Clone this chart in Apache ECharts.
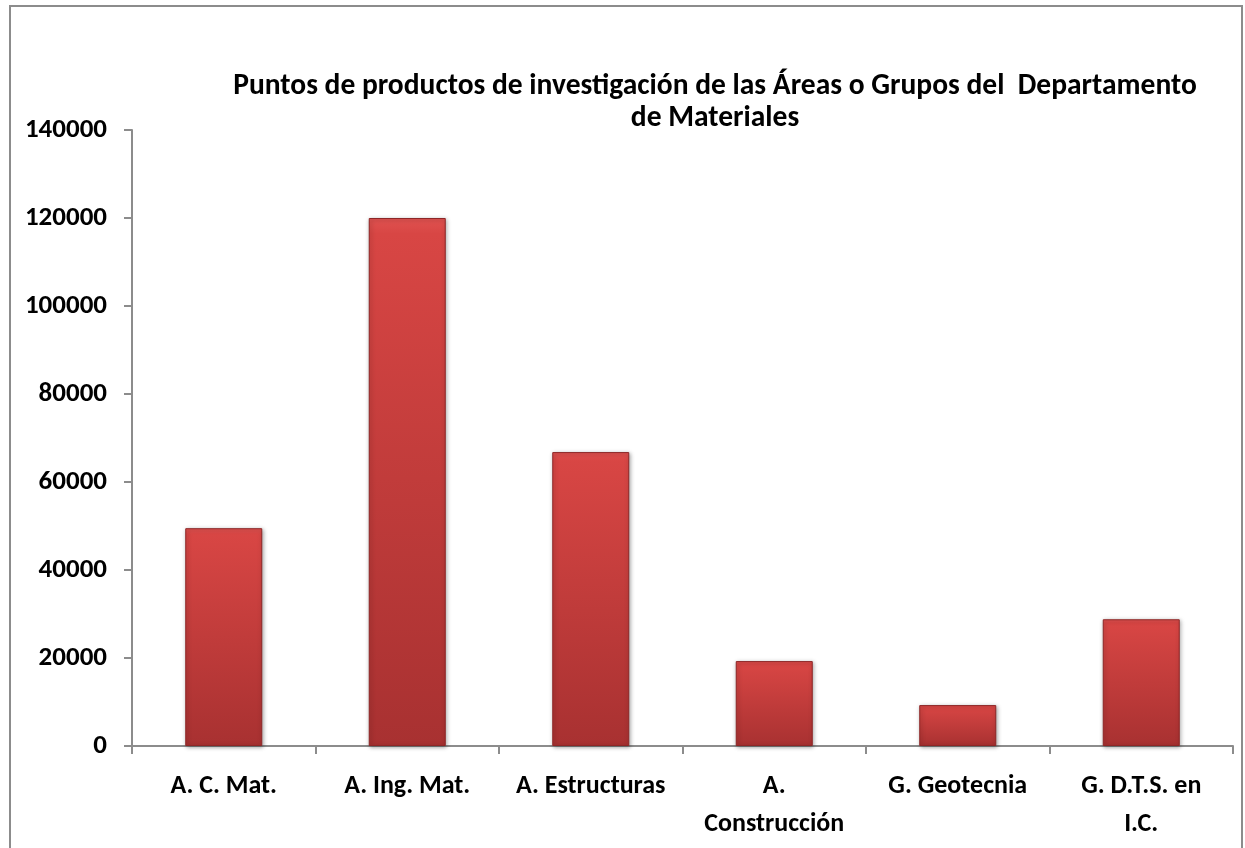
<!DOCTYPE html>
<html><head><meta charset="utf-8">
<script src="https://cdn.jsdelivr.net/npm/echarts@6/dist/echarts.min.js"></script>
<style>html,body{margin:0;padding:0;background:#fff}#c{width:1245px;height:848px}</style>
</head><body><div id="c"></div>
<script>
var categories = ['A. C. Mat.', 'A. Ing. Mat.', 'A. Estructuras', 'A.\nConstrucción', 'G. Geotecnia', 'G. D.T.S. en\nI.C.'];
var values = [49500, 120000, 66800, 19300, 9300, 28800];
var titleText = 'Puntos de productos de investigación de las Áreas o Grupos del  Departamento\nde Materiales';
var FONT = "Carlito, 'Liberation Sans Narrow', 'Open Sans', sans-serif";
var chart = echarts.init(document.getElementById('c'));
chart.setOption({
  animation: false,
  backgroundColor: '#fff',
  graphic: [{type:'rect', shape:{x:10,y:6,width:1232,height:850}, style:{fill:'none', stroke:'#8c8c8c', lineWidth:2}}],
  title: {text: titleText, left: 710, textAlign: 'center', top: 66,
    textStyle: {fontFamily: FONT, fontWeight: 'bold', fontSize: 29.5, color: '#000', lineHeight: 32}},
  grid: {left: 132, right: 12, top: 130, bottom: 102},
  xAxis: {type: 'category', data: categories,
    axisLine: {lineStyle: {color: '#8c8c8c', width: 2}},
    axisTick: {show: true, length: 8, lineStyle: {color: '#8c8c8c', width: 2}},
    axisLabel: {interval: 0, margin: 21, fontFamily: FONT, fontWeight: 'bold', fontSize: 26, color: '#000', lineHeight: 38}},
  yAxis: {type: 'value', min: 0, max: 140000, interval: 20000,
    splitLine: {show: false},
    axisLine: {show: true, lineStyle: {color: '#8c8c8c', width: 2}},
    axisTick: {show: true, length: 8, lineStyle: {color: '#8c8c8c', width: 2}},
    axisLabel: {margin: 25, fontFamily: FONT, fontWeight: 'bold', fontSize: 27, color: '#000', formatter: function (v) { return String(v); }}},
  series: [{type: 'bar', data: values, barWidth: 77,
    itemStyle: {
      color: {type: 'linear', x: 0, y: 0, x2: 0, y2: 1, colorStops: [
        {offset: 0, color: '#e05250'}, {offset: 0.03, color: '#d84644'}, {offset: 1, color: '#a83131'}]},
      borderColor: '#8e2626', borderWidth: 1,
      shadowColor: 'rgba(0,0,0,0.35)', shadowBlur: 4, shadowOffsetX: 1, shadowOffsetY: 1
    }}]
});
</script></body></html>
